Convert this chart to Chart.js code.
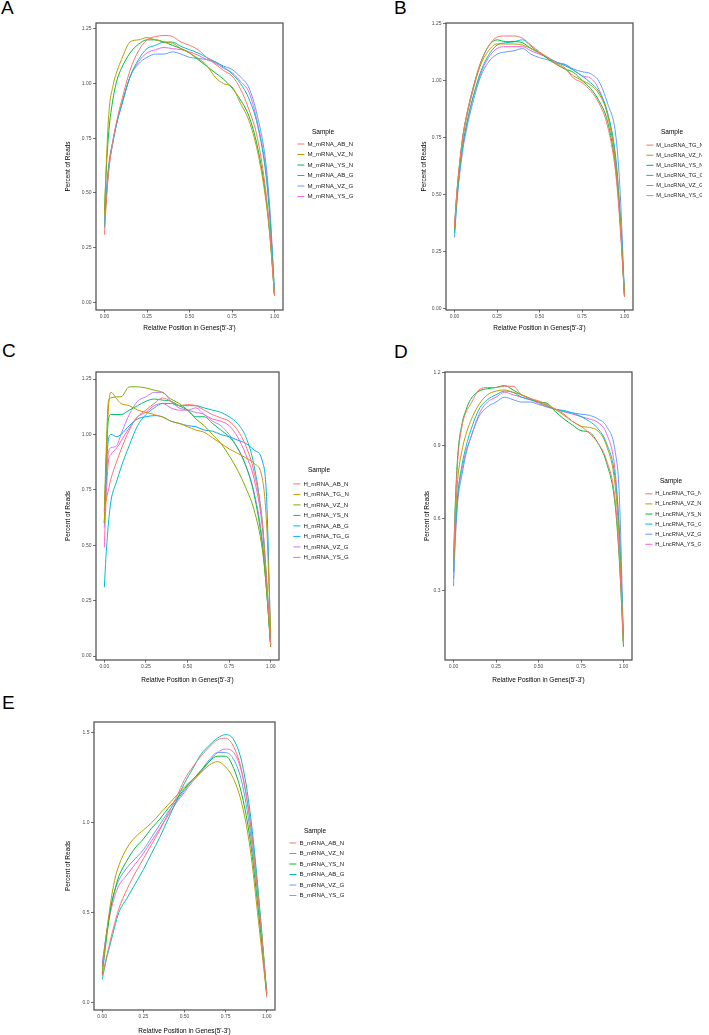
<!DOCTYPE html>
<html>
<head>
<meta charset="utf-8">
<script src="https://cdn.jsdelivr.net/npm/chart.js@4.4.0/dist/chart.umd.min.js"></script>
<style>
body{margin:0;background:#fff;width:709px;height:1035px;position:relative;overflow:hidden;font-family:"Liberation Sans",Arial,sans-serif}
canvas{position:absolute}
.tag{position:absolute;font-size:19px;line-height:19px;color:#000}
</style>
</head>
<body>
<div class="tag" style="left:1px;top:-2px">A</div>
<div class="tag" style="left:394px;top:-2px">B</div>
<div class="tag" style="left:2px;top:341px">C</div>
<div class="tag" style="left:394px;top:342px">D</div>
<div class="tag" style="left:2px;top:693px">E</div>

<canvas id="cA" width="355" height="335" style="left:0;top:0"></canvas>
<canvas id="cB" width="354" height="335" style="left:355px;top:0"></canvas>
<canvas id="cC" width="355" height="352" style="left:0;top:335px"></canvas>
<canvas id="cD" width="354" height="352" style="left:355px;top:335px"></canvas>
<canvas id="cE" width="355" height="348" style="left:0;top:687px"></canvas>

<script>
// gene body coverage
const xTicks = [0, 0.25, 0.5, 0.75, 1];
const xTickLabels = ['0.00', '0.25', '0.50', '0.75', '1.00'];
const yTicksQ = [0, 0.25, 0.5, 0.75, 1, 1.25];
const yTickLabelsQ = ['0.00', '0.25', '0.50', '0.75', '1.00', '1.25'];
const yTicksD = [0.3, 0.6, 0.9, 1.2];
const yTickLabelsD = ['0.3', '0.6', '0.9', '1.2'];
const yTicksE = [0, 0.5, 1, 1.5];
const yTickLabelsE = ['0.0', '0.5', '1.0', '1.5'];

const hue6 = ['#F8766D', '#B79F00', '#00BA38', '#00BFC4', '#619CFF', '#F564E3'];
const hue8 = ['#F8766D', '#CD9600', '#7CAE00', '#00BE67', '#00BFC4', '#00A9FF', '#C77CFF', '#FF61CC'];

const namesA = ['M_mRNA_AB_N', 'M_mRNA_VZ_N', 'M_mRNA_YS_N', 'M_mRNA_AB_G', 'M_mRNA_VZ_G', 'M_mRNA_YS_G'];
const namesB = ['M_LncRNA_TG_N', 'M_LncRNA_VZ_N', 'M_LncRNA_YS_N', 'M_LncRNA_TG_G', 'M_LncRNA_VZ_G', 'M_LncRNA_YS_G'];
const namesC = ['H_mRNA_AB_N', 'H_mRNA_TG_N', 'H_mRNA_VZ_N', 'H_mRNA_YS_N', 'H_mRNA_AB_G', 'H_mRNA_TG_G', 'H_mRNA_VZ_G', 'H_mRNA_YS_G'];
const namesD = ['H_LncRNA_TG_N', 'H_LncRNA_VZ_N', 'H_LncRNA_YS_N', 'H_LncRNA_TG_G', 'H_LncRNA_VZ_G', 'H_LncRNA_YS_G'];
const namesE = ['B_mRNA_AB_N', 'B_mRNA_VZ_N', 'B_mRNA_YS_N', 'B_mRNA_AB_G', 'B_mRNA_VZ_G', 'B_mRNA_YS_G'];

// positions along gene
const xsABD = [0, .01, .025, .05, .075, .1, .15, .2, .25, .3, .35, .4, .45, .5, .55, .6, .65, .7, .75, .8, .85, .9, .95, .975, 1];
const xsC = [0, .01, .025, .04, .075, .1, .15, .2, .25, .3, .35, .4, .45, .5, .55, .6, .65, .7, .75, .8, .85, .9, .95, .975, 1];
const xsE = [0, .025, .05, .075, .1, .15, .2, .25, .3, .35, .4, .45, .5, .55, .6, .65, .7, .75, .8, .85, .9, .95, 1];

// A
const A_AB_N = [0.31, 0.45, 0.6, 0.74, 0.84, 0.92, 1.06, 1.15, 1.2, 1.215, 1.22, 1.215, 1.19, 1.175, 1.155, 1.12, 1.09, 1.06, 1.035, 0.975, 0.88, 0.75, 0.5, 0.3, 0.03];
const A_VZ_N = [0.4, 0.62, 0.86, 0.99, 1.06, 1.11, 1.19, 1.2, 1.21, 1.2, 1.19, 1.185, 1.16, 1.14, 1.115, 1.085, 1.03, 1.0, 0.985, 0.91, 0.83, 0.69, 0.46, 0.28, 0.03];
const A_YS_N = [0.42, 0.6, 0.78, 0.93, 1.02, 1.07, 1.14, 1.18, 1.2, 1.2, 1.19, 1.175, 1.16, 1.14, 1.11, 1.08, 1.05, 1.02, 0.98, 0.925, 0.85, 0.71, 0.48, 0.29, 0.03];
const A_AB_G = [0.35, 0.48, 0.62, 0.74, 0.83, 0.9, 1.03, 1.11, 1.16, 1.175, 1.19, 1.19, 1.17, 1.155, 1.14, 1.12, 1.1, 1.075, 1.045, 1.0, 0.93, 0.81, 0.58, 0.36, 0.04];
const A_VZ_G = [0.34, 0.47, 0.61, 0.73, 0.83, 0.9, 1.03, 1.09, 1.12, 1.135, 1.135, 1.145, 1.135, 1.12, 1.115, 1.11, 1.1, 1.08, 1.065, 1.03, 0.98, 0.85, 0.63, 0.4, 0.05];
const A_YS_G = [0.38, 0.5, 0.63, 0.74, 0.83, 0.9, 1.03, 1.1, 1.14, 1.155, 1.165, 1.16, 1.155, 1.145, 1.13, 1.11, 1.095, 1.07, 1.05, 1.01, 0.96, 0.82, 0.6, 0.38, 0.03];

// B
const B_TG_N = [0.36, 0.47, 0.6, 0.76, 0.86, 0.94, 1.07, 1.15, 1.19, 1.195, 1.195, 1.185, 1.155, 1.125, 1.1, 1.075, 1.055, 1.01, 0.99, 0.955, 0.9, 0.8, 0.58, 0.35, 0.05];
const B_VZ_N = [0.35, 0.46, 0.59, 0.75, 0.85, 0.93, 1.06, 1.13, 1.16, 1.16, 1.16, 1.155, 1.14, 1.12, 1.1, 1.07, 1.05, 1.02, 1.0, 0.98, 0.94, 0.85, 0.62, 0.38, 0.05];
const B_YS_N = [0.35, 0.47, 0.6, 0.76, 0.86, 0.94, 1.07, 1.15, 1.178, 1.17, 1.17, 1.165, 1.14, 1.12, 1.095, 1.07, 1.05, 1.035, 1.0, 0.965, 0.91, 0.82, 0.6, 0.37, 0.05];
const B_TG_G = [0.33, 0.44, 0.57, 0.72, 0.82, 0.9, 1.03, 1.11, 1.155, 1.165, 1.17, 1.178, 1.15, 1.12, 1.1, 1.08, 1.065, 1.045, 1.02, 0.99, 0.95, 0.86, 0.65, 0.4, 0.06];
const B_VZ_G = [0.31, 0.42, 0.55, 0.7, 0.8, 0.88, 1.01, 1.08, 1.115, 1.125, 1.13, 1.14, 1.115, 1.1, 1.09, 1.075, 1.07, 1.05, 1.038, 1.03, 0.995, 0.9, 0.75, 0.5, 0.06];
const B_YS_G = [0.34, 0.45, 0.57, 0.72, 0.82, 0.9, 1.02, 1.1, 1.14, 1.148, 1.148, 1.148, 1.13, 1.115, 1.1, 1.08, 1.07, 1.045, 1.02, 1.01, 0.96, 0.85, 0.64, 0.4, 0.05];

// C
const C_AB_N = [0.65, 0.7, 0.75, 0.8, 0.88, 0.93, 1.02, 1.08, 1.11, 1.14, 1.165, 1.15, 1.13, 1.135, 1.13, 1.11, 1.09, 1.075, 1.06, 1.02, 0.95, 0.83, 0.6, 0.35, 0.05];
const C_TG_N = [0.6, 0.85, 1.12, 1.19, 1.16, 1.14, 1.13, 1.11, 1.1, 1.09, 1.078, 1.06, 1.05, 1.035, 1.02, 1.01, 0.985, 0.96, 0.935, 0.915, 0.895, 0.87, 0.8, 0.6, 0.1];
const C_VZ_N = [0.65, 0.9, 1.15, 1.165, 1.17, 1.17, 1.215, 1.215, 1.21, 1.2, 1.19, 1.16, 1.14, 1.11, 1.07, 1.04, 1.0, 0.96, 0.905, 0.84, 0.76, 0.66, 0.48, 0.3, 0.04];
const C_YS_N = [0.6, 0.85, 1.07, 1.09, 1.09, 1.09, 1.11, 1.13, 1.15, 1.16, 1.155, 1.15, 1.13, 1.11, 1.08, 1.08, 1.05, 1.02, 0.99, 0.94, 0.86, 0.73, 0.5, 0.3, 0.04];
const C_AB_G = [0.31, 0.45, 0.6, 0.7, 0.79, 0.85, 0.95, 1.04, 1.09, 1.12, 1.14, 1.14, 1.13, 1.13, 1.13, 1.12, 1.11, 1.1, 1.08, 1.05, 0.99, 0.86, 0.6, 0.35, 0.05];
const C_TG_G = [0.6, 0.8, 0.98, 1.0, 0.99, 1.0, 1.04, 1.07, 1.08, 1.085, 1.08, 1.06, 1.05, 1.04, 1.035, 1.02, 1.015, 1.0, 0.99, 0.975, 0.96, 0.93, 0.88, 0.72, 0.08];
const C_VZ_G = [0.58, 0.75, 0.92, 0.94, 0.95, 1.0, 1.09, 1.15, 1.17, 1.19, 1.19, 1.15, 1.12, 1.11, 1.1, 1.09, 1.06, 1.04, 1.0, 0.94, 0.86, 0.74, 0.52, 0.3, 0.05];
const C_YS_G = [0.49, 0.7, 0.88, 0.91, 0.94, 0.97, 1.03, 1.08, 1.1, 1.13, 1.14, 1.12, 1.11, 1.11, 1.12, 1.09, 1.07, 1.06, 1.04, 0.99, 0.91, 0.8, 0.58, 0.33, 0.05];

// D
const D_TG_N = [0.4, 0.62, 0.84, 0.98, 1.04, 1.07, 1.13, 1.14, 1.14, 1.145, 1.145, 1.11, 1.095, 1.085, 1.07, 1.05, 1.03, 1.0, 0.98, 0.95, 0.91, 0.84, 0.68, 0.45, 0.08];
const D_VZ_N = [0.4, 0.58, 0.76, 0.88, 0.95, 1.0, 1.07, 1.11, 1.125, 1.13, 1.12, 1.11, 1.095, 1.08, 1.065, 1.05, 1.025, 1.0, 0.98, 0.975, 0.96, 0.9, 0.74, 0.5, 0.08];
const D_YS_N = [0.42, 0.65, 0.86, 0.99, 1.05, 1.09, 1.125, 1.135, 1.14, 1.148, 1.13, 1.11, 1.095, 1.08, 1.075, 1.04, 1.01, 0.985, 0.962, 0.955, 0.91, 0.83, 0.66, 0.43, 0.07];
const D_TG_G = [0.38, 0.55, 0.7, 0.82, 0.9, 0.96, 1.05, 1.09, 1.11, 1.125, 1.12, 1.1, 1.09, 1.08, 1.065, 1.05, 1.045, 1.035, 1.02, 1.0, 0.97, 0.91, 0.77, 0.55, 0.08];
const D_VZ_G = [0.32, 0.5, 0.67, 0.78, 0.87, 0.93, 1.02, 1.06, 1.08, 1.1, 1.09, 1.08, 1.08, 1.07, 1.06, 1.05, 1.04, 1.035, 1.03, 1.025, 1.01, 0.98, 0.88, 0.7, 0.1];
const D_YS_G = [0.35, 0.52, 0.69, 0.8, 0.88, 0.93, 1.03, 1.08, 1.1, 1.12, 1.11, 1.1, 1.09, 1.075, 1.06, 1.05, 1.04, 1.03, 1.02, 1.01, 0.995, 0.95, 0.8, 0.55, 0.09];

// E
const E_AB_N = [0.15, 0.25, 0.35, 0.44, 0.52, 0.63, 0.72, 0.8, 0.88, 0.96, 1.05, 1.14, 1.24, 1.31, 1.37, 1.42, 1.46, 1.47, 1.42, 1.28, 1.0, 0.57, 0.05];
const E_VZ_N = [0.17, 0.38, 0.55, 0.68, 0.76, 0.86, 0.92, 0.96, 1.0, 1.05, 1.1, 1.15, 1.2, 1.24, 1.28, 1.32, 1.34, 1.31, 1.24, 1.1, 0.85, 0.45, 0.04];
const E_YS_N = [0.16, 0.35, 0.52, 0.62, 0.7, 0.79, 0.86, 0.91, 0.97, 1.02, 1.08, 1.13, 1.19, 1.24, 1.29, 1.34, 1.37, 1.37, 1.3, 1.15, 0.9, 0.5, 0.05];
const E_AB_G = [0.13, 0.24, 0.33, 0.42, 0.5, 0.58, 0.66, 0.74, 0.83, 0.92, 1.02, 1.12, 1.22, 1.3, 1.38, 1.43, 1.47, 1.49, 1.46, 1.33, 1.05, 0.6, 0.05];
const E_VZ_G = [0.2, 0.38, 0.52, 0.62, 0.68, 0.75, 0.8, 0.85, 0.92, 0.99, 1.06, 1.12, 1.18, 1.24, 1.29, 1.35, 1.39, 1.39, 1.35, 1.22, 0.95, 0.55, 0.05];
const E_YS_G = [0.22, 0.38, 0.5, 0.59, 0.65, 0.71, 0.77, 0.83, 0.9, 0.97, 1.04, 1.11, 1.17, 1.23, 1.28, 1.34, 1.39, 1.41, 1.39, 1.27, 1.0, 0.58, 0.03];

Chart.defaults.font.family = '"Liberation Sans", Arial, sans-serif';

const frame = {
  id: 'frame',
  afterDatasetsDraw(chart) {
    const {ctx, chartArea: a} = chart;
    ctx.save();
    ctx.strokeStyle = '#4a4a4a';
    ctx.lineWidth = 1.2;
    ctx.strokeRect(a.left, a.top, a.right - a.left, a.bottom - a.top);
    ctx.restore();
  }
};

function panel(id, xs, names, series, colors, yMin, yMax, yTicks, yLabels, L) {
  new Chart(document.getElementById(id), {
    type: 'line',
    data: {
      datasets: series.map((vals, i) => ({
        label: names[i],
        data: xs.map((x, j) => ({x: x, y: vals[j]})),
        borderColor: colors[i],
        backgroundColor: colors[i],
        borderWidth: 1,
        pointRadius: 0,
        cubicInterpolationMode: 'monotone',
        fill: false
      }))
    },
    plugins: [frame],
    options: {
      responsive: false,
      animation: false,
      devicePixelRatio: 1,
      layout: {padding: {left: L.pl, top: L.pt, right: L.pr, bottom: 0}},
      plugins: {
        tooltip: {enabled: false},
        legend: {
          position: 'right',
          align: 'start',
          maxWidth: 60,
          title: {display: true, text: 'Sample', color: '#000', font: {size: 6.5}, padding: {top: L.tTop, bottom: L.tBot}},
          labels: {usePointStyle: true, pointStyle: 'line', pointStyleWidth: 7, padding: 4.4, color: '#1a1a1a', font: {size: L.lf}}
        }
      },
      scales: {
        x: {
          type: 'linear', min: -0.05, max: 1.05,
          afterBuildTicks: s => { s.ticks = xTicks.map(v => ({value: v})); },
          afterFit: s => { s.height = L.xH; },
          ticks: {callback: (v, i) => xTickLabels[i], font: {size: 5}, color: '#4d4d4d', padding: 1, autoSkip: false, maxRotation: 0},
          grid: {drawOnChartArea: false, tickLength: 2.5, color: '#333', lineWidth: 0.7},
          border: {display: false},
          title: {display: true, text: "Relative Position in Genes(5'-3')", color: '#000', font: {size: 6.5}, padding: {top: 0, bottom: L.xtPad}}
        },
        y: {
          type: 'linear', position: 'left', min: yMin, max: yMax,
          afterBuildTicks: s => { s.ticks = yTicks.map(v => ({value: v})); },
          afterFit: s => { s.width = L.yW; },
          ticks: {callback: (v, i) => yLabels[i], font: {size: 5}, color: '#4d4d4d', padding: 1.5, autoSkip: false},
          grid: {drawOnChartArea: false, tickLength: 3, color: '#333', lineWidth: 0.7},
          border: {display: false},
          title: {display: true, text: 'Percent of Reads', color: '#000', font: {size: 6.5}, padding: {top: 0, bottom: 0}}
        },
        y2: {
          position: 'right', display: true,
          grid: {display: false}, ticks: {display: false}, border: {display: false},
          afterFit: s => { s.width = L.gap; }
        }
      }
    }
  });
}

panel('cA', xsABD, namesA, [A_AB_N, A_VZ_N, A_YS_N, A_AB_G, A_VZ_G, A_YS_G], hue6,
  -0.035, 1.277, yTicksQ, yTickLabelsQ,
  {pl: 64, pt: 23, pr: 2, yW: 32, xH: 25, gap: 10, tTop: 105.75, tBot: 0, xtPad: 3.1, lf: 6.1});
panel('cB', xsABD, namesB, [B_TG_N, B_VZ_N, B_YS_N, B_TG_G, B_VZ_G, B_YS_G], hue6,
  -0.008, 1.252, yTicksQ, yTickLabelsQ,
  {pl: 65, pt: 23, pr: 7, yW: 26, xH: 25, gap: 9, tTop: 105.75, tBot: 1.3, xtPad: 3.1, lf: 5.7});
panel('cC', xsC, namesC, [C_AB_N, C_TG_N, C_VZ_N, C_YS_N, C_AB_G, C_TG_G, C_VZ_G, C_YS_G], hue8,
  -0.018, 1.282, yTicksQ, yTickLabelsQ,
  {pl: 64, pt: 37, pr: 6, yW: 32, xH: 27, gap: 10, tTop: 94.75, tBot: 1.9, xtPad: 3.1, lf: 6.1});
panel('cD', xsABD, namesD, [D_TG_N, D_VZ_N, D_YS_N, D_TG_G, D_VZ_G, D_YS_G], hue6,
  0.015, 1.204, yTicksD, yTickLabelsD,
  {pl: 68, pt: 37, pr: 8, yW: 22, xH: 27, gap: 9, tTop: 105.75, tBot: 1, xtPad: 3.1, lf: 5.7});
panel('cE', xsE, namesE, [E_AB_N, E_VZ_N, E_YS_N, E_AB_G, E_VZ_G, E_YS_G], hue6,
  -0.04, 1.56, yTicksE, yTickLabelsE,
  {pl: 64, pt: 35, pr: 10, yW: 30, xH: 25, gap: 10, tTop: 105.75, tBot: 0, xtPad: 0.1, lf: 6.1});
</script>
</body>
</html>
